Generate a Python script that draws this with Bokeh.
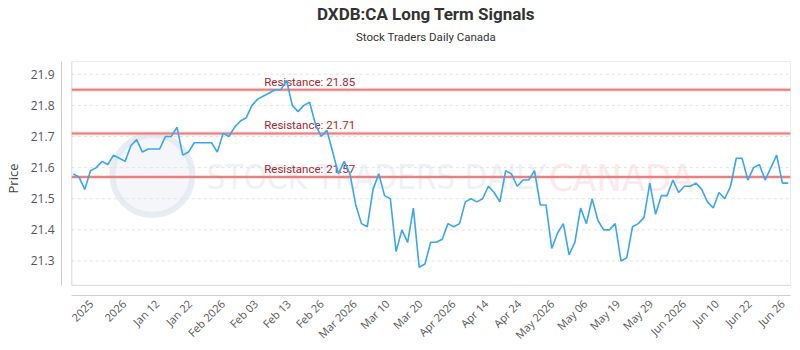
import numpy as np
from bokeh.plotting import figure
from bokeh.models import Range1d, FixedTicker, Title, BoxAnnotation
from bokeh.core.properties import value
from bokeh.embed import file_html
from bokeh.resources import INLINE

# Daily closing prices (one value per trading session)
prices = [
    21.58, 21.57, 21.53, 21.59, 21.60, 21.62, 21.61, 21.64, 21.63, 21.62,
    21.67, 21.69, 21.65, 21.66, 21.66, 21.66, 21.70, 21.70, 21.73, 21.64,
    21.65, 21.68, 21.68, 21.68, 21.68, 21.65, 21.71, 21.70, 21.73, 21.75,
    21.76, 21.80, 21.82, 21.83, 21.84, 21.85, 21.85, 21.88, 21.80, 21.78,
    21.80, 21.81, 21.74, 21.70, 21.72, 21.65, 21.58, 21.62, 21.58, 21.48,
    21.42, 21.41, 21.53, 21.58, 21.51, 21.50, 21.33, 21.40, 21.36, 21.47,
    21.28, 21.29, 21.36, 21.36, 21.37, 21.42, 21.41, 21.42, 21.49, 21.50,
    21.49, 21.50, 21.54, 21.52, 21.49, 21.59, 21.58, 21.54, 21.56, 21.56,
    21.59, 21.48, 21.48, 21.34, 21.39, 21.42, 21.32, 21.36, 21.47, 21.42,
    21.50, 21.43, 21.40, 21.40, 21.42, 21.30, 21.31, 21.41, 21.42, 21.44,
    21.55, 21.45, 21.51, 21.51, 21.56, 21.52, 21.54, 21.54, 21.55, 21.53,
    21.49, 21.47, 21.52, 21.50, 21.54, 21.63, 21.63, 21.56, 21.60, 21.61,
    21.56, 21.60, 21.64, 21.55, 21.55,
]

x_tick_labels = [
    "2025", "2026", "Jan 12", "Jan 22", "Feb 2026", "Feb 03", "Feb 13",
    "Feb 26", "Mar 2026", "Mar 10", "Mar 20", "Apr 2026", "Apr 14", "Apr 24",
    "May 2026", "May 06", "May 19", "May 29", "Jun 2026", "Jun 10",
    "Jun 22", "Jun 26",
]

resistance_levels = [21.85, 21.71, 21.57]
y_ticks = [21.3, 21.4, 21.5, 21.6, 21.7, 21.8, 21.9]

idx = list(range(len(prices)))
x_tick_pos = list(np.linspace(3.1, 123.0, len(x_tick_labels)))

# Ranges: the outer frame leaves a 10px gutter left and below the plot box
X_LO, X_HI = -2.03, 124.40
BOX_L = -0.24
Y_LO, Y_HI = 21.189, 21.941
BOX_B = 21.2216

FONT = "Open Sans"
HEAD_FONT = "Roboto"
MARK_FONT = "DejaVu Sans Condensed"

p = figure(
    width=800, height=350, output_backend="svg", toolbar_location=None,
    x_range=Range1d(X_LO, X_HI), y_range=Range1d(Y_LO, Y_HI),
    min_border_left=60, min_border_right=10, min_border_top=59,
    min_border_bottom=54, title=None,
)
p.outline_line_color = None
p.background_fill_color = "white"
p.border_fill_color = "white"
p.xgrid.visible = False
p.ygrid.visible = False

# Watermark
p.scatter([13.73], [21.576], size=80, marker="circle",
          fill_color="#f1f4f9", fill_alpha=0.8,
          line_color="#e2e8f0", line_width=6, line_alpha=0.8)
p.text([23.1], [21.567], text=["STOCK TRADERS DAILY"],
       text_font=value(MARK_FONT), text_font_size="33px",
       text_color="#e3e8ef", text_alpha=0.6,
       text_align="left", text_baseline="middle")
p.text([82.5], [21.567], text=["CANADA"],
       text_font=value(MARK_FONT), text_font_size="38px",
       text_color="#f9d3d3", text_alpha=0.5,
       text_align="left", text_baseline="middle")

# Dashed horizontal grid lines
p.segment(x0=[BOX_L] * len(y_ticks), x1=[X_HI] * len(y_ticks),
          y0=y_ticks, y1=y_ticks, line_color="#e3e3e3",
          line_width=1, line_dash="3 3")

# Resistance levels
for lvl in resistance_levels:
    p.segment(x0=[BOX_L], x1=[X_HI], y0=[lvl], y1=[lvl],
              line_color="#f3a0a0", line_width=4, line_alpha=0.35)
    p.segment(x0=[BOX_L], x1=[X_HI], y0=[lvl], y1=[lvl],
              line_color="#ea8080", line_width=2)
p.text([33.13] * len(resistance_levels), resistance_levels,
       text=[f"Resistance: {lvl:.2f}" for lvl in resistance_levels],
       text_font=value(HEAD_FONT), text_font_size="11.5px",
       text_color="#a8262e", text_align="left", text_baseline="middle",
       y_offset=-8)

# Price line
p.line(idx, prices, line_color="#3aa6f2", line_width=1.6)

# Plot box
p.add_layout(BoxAnnotation(left=BOX_L, right=X_HI, bottom=BOX_B, top=Y_HI,
                           fill_alpha=0, line_color="#808080", line_width=1))

# Axes
yax = p.yaxis[0]
yax.ticker = FixedTicker(ticks=y_ticks)
yax.bounds = (BOX_B, Y_HI)
yax.axis_line_color = "#cccccc"
yax.major_tick_line_color = None
yax.minor_tick_line_color = None
yax.major_tick_out = 0
yax.major_tick_in = 0
yax.major_label_standoff = 7
yax.major_label_text_font = FONT
yax.major_label_text_font_size = "12px"
yax.major_label_text_color = "#555555"
yax.axis_label = "Price"
yax.axis_label_text_font = FONT
yax.axis_label_text_font_size = "13px"
yax.axis_label_text_font_style = "normal"
yax.axis_label_text_color = "#444444"
yax.axis_label_standoff = 6

xax = p.xaxis[0]
xax.ticker = FixedTicker(ticks=x_tick_pos)
xax.major_label_overrides = {t: lab for t, lab in zip(x_tick_pos, x_tick_labels)}
xax.bounds = (BOX_L, X_HI)
xax.axis_line_color = "#cccccc"
xax.major_tick_line_color = None
xax.minor_tick_line_color = None
xax.major_tick_out = 0
xax.major_tick_in = 0
xax.major_label_orientation = np.pi / 4
xax.major_label_standoff = 6
xax.major_label_text_font = FONT
xax.major_label_text_font_size = "11px"
xax.major_label_text_color = "#555555"

# Headings: a blank spacer next to the plot, then subtitle, then main title
p.add_layout(Title(text=" ", align="center", text_font=HEAD_FONT,
                   text_font_size="11.5px", standoff=0), "above")
p.add_layout(Title(text="Stock Traders Daily Canada", align="center",
                   text_font=HEAD_FONT, text_font_size="11.5px",
                   text_font_style="normal", text_color="#333333",
                   standoff=4), "above")
p.add_layout(Title(text="DXDB:CA Long Term Signals", align="center",
                   text_font=HEAD_FONT, text_font_size="17px",
                   text_font_style="bold", text_color="#333333",
                   standoff=3), "above")

open("out.html", "w").write(file_html(p, INLINE))
